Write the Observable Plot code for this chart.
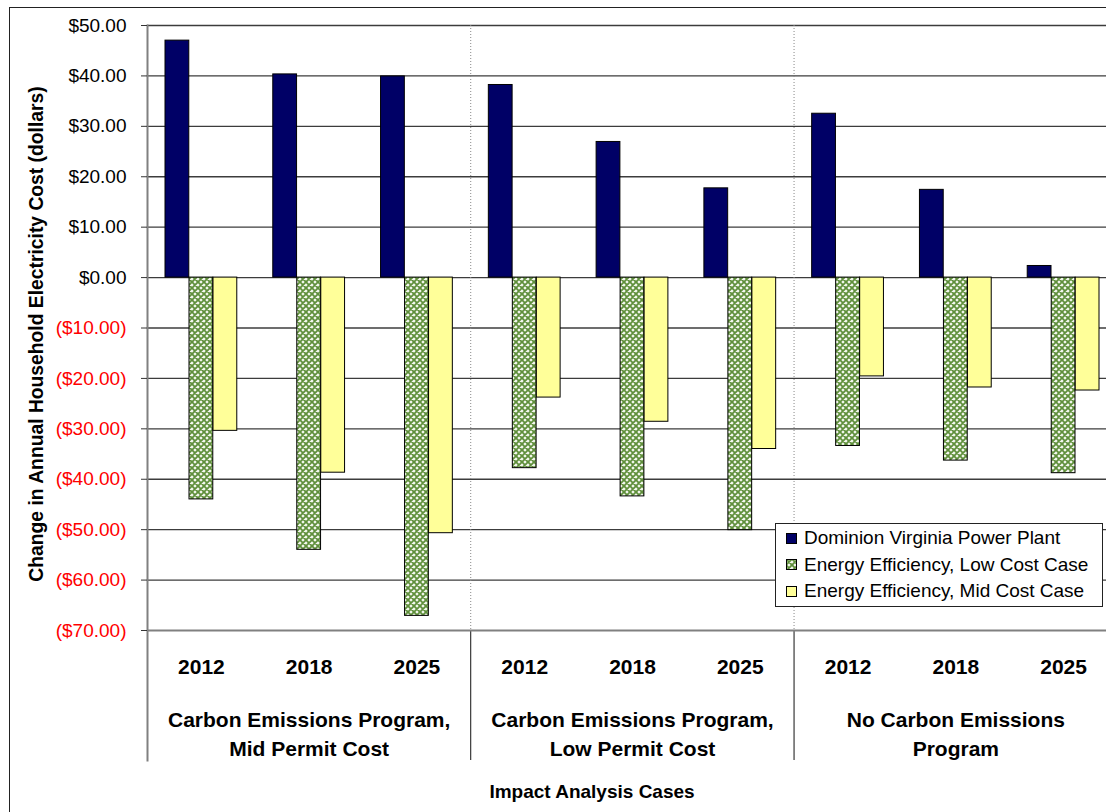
<!DOCTYPE html>
<html>
<head>
<meta charset="utf-8">
<script src="https://cdn.jsdelivr.net/npm/d3@7"></script>
<script src="https://cdn.jsdelivr.net/npm/@observablehq/plot@0.6"></script>
<style>
  body { margin: 0; background: #fff; overflow: hidden; font-family: "Liberation Sans", Arial, sans-serif; }
  #wrap { position: relative; width: 1106px; height: 812px; overflow: hidden; background: #fff; }
  #chart { position: absolute; left: 0; top: 0; }
  #border { position: absolute; left: 9px; top: 7px; width: 1130px; height: 840px; border: 1px solid #222; pointer-events: none; }
  #ytitle { position: absolute; left: 37px; top: 334px; transform: translate(-50%, -50%) rotate(-90deg); white-space: nowrap; font-weight: bold; font-size: 19.3px; color: #000; }
  #xtitle { position: absolute; left: 592px; top: 792px; transform: translate(-50%, -50%); white-space: nowrap; font-weight: bold; font-size: 19px; color: #000; }
  #legend { position: absolute; left: 775px; top: 523px; width: 326px; height: 82px; border: 1px solid #222; background: #fff; font-size: 19px; }
  .row { position: absolute; left: 10px; height: 24px; display: flex; align-items: center; white-space: nowrap; }
  .row svg { margin-right: 7px; }
</style>
</head>
<body>
<div id="wrap">
  <div id="chart"></div>
  <div id="ytitle">Change in Annual Household Electricity Cost (dollars)</div>
  <div id="xtitle">Impact Analysis Cases</div>
  <div id="legend"></div>
  <div id="border"></div>
</div>
<script>
// ---- data ----
const groups = [
  "Carbon Emissions Program,\nMid Permit Cost",
  "Carbon Emissions Program,\nLow Permit Cost",
  "No Carbon Emissions\nProgram"
];
const years = ["2012", "2018", "2025"];
const seriesNames = [
  "Dominion Virginia Power Plant",
  "Energy Efficiency, Low Cost Case",
  "Energy Efficiency, Mid Cost Case"
];
const dominion = [47.0, 40.3, 39.9, 38.2, 26.9, 17.7, 32.5, 17.4, 2.3];
const effLow   = [-44.0, -54.0, -67.1, -37.8, -43.4, -50.1, -33.4, -36.3, -38.8];
const effMid   = [-30.4, -38.7, -50.7, -23.8, -28.6, -34.0, -19.6, -21.8, -22.4];
const yTicks = [-70, -60, -50, -40, -30, -20, -10, 0, 10, 20, 30, 40, 50];

// ---- table ----
const keys = groups.flatMap((g, gi) => years.map(y => gi + "|" + y));
const rows = keys.map((k, i) => ({
  key: k,
  group: groups[Math.floor(i / 3)],
  year: years[i % 3],
  dominion: dominion[i],
  effLow: effLow[i],
  effMid: effMid[i]
}));
const dividers = [keys[3], keys[6]];

const fmt = v => v < 0 ? "($" + (-v).toFixed(2) + ")" : "$" + v.toFixed(2);
const colors = ["#000066", "url(#hatch)", "#FFFF99"];

const barOpts = {insetLeft: 42, insetRight: 42, stroke: "#000", strokeWidth: 1};

const chart = Plot.plot({
  width: 1106,
  height: 812,
  marginLeft: 147,
  marginRight: -11,
  marginTop: 25,
  marginBottom: 182,
  style: {fontFamily: "Liberation Sans, Arial, sans-serif", fontSize: "19px", color: "#000", background: "transparent"},
  x: {domain: keys, padding: 0, round: false, axis: null},
  y: {domain: [-70, 50]},
  marks: [
    Plot.ruleY(yTicks.filter(t => t > -70), {stroke: "#3c3c3c", strokeWidth: 1.3}),
    Plot.ruleX(dividers, {dx: -54, y1: 50, y2: -70, stroke: "#888", strokeDasharray: "1,2"}),
    Plot.ruleX(dividers, {dx: -54, y1: -70, y2: -70, insetBottom: -130, stroke: "#111"}),
    Plot.barY(rows, {x: "key", y: "dominion", fill: colors[0], dx: -24, ...barOpts}),
    Plot.barY(rows, {x: "key", y: "effLow", fill: colors[1], dx: 0, ...barOpts}),
    Plot.barY(rows, {x: "key", y: "effMid", fill: colors[2], dx: 24, ...barOpts}),
    Plot.ruleY([-70], {stroke: "#808080", strokeWidth: 2}),
    Plot.frame({anchor: "left", stroke: "#808080", strokeWidth: 2, insetBottom: -130}),
    Plot.axisY(yTicks.filter(t => t < 0), {tickFormat: fmt, tickSize: 6, tickPadding: 15, fill: "#ff0000", stroke: "#333", fontSize: 19, label: null}),
    Plot.axisY(yTicks.filter(t => t >= 0), {tickFormat: fmt, tickSize: 6, tickPadding: 15, fill: "#000", stroke: "#333", fontSize: 19, label: null}),
    Plot.text(rows, {x: "key", text: "year", frameAnchor: "bottom", lineAnchor: "middle", dy: 37, fontSize: 21, fontWeight: "bold"}),
    Plot.text(rows.filter(d => d.year === "2018"), {x: "key", text: "group", frameAnchor: "bottom", lineAnchor: "middle", dy: 101.5, lineHeight: 1.38, fontSize: 21, fontWeight: "bold"})
  ]
});

// pattern for the hatched series
const svgRoot = chart.tagName.toLowerCase() === "svg" ? chart : chart.querySelector("svg");
const defs = d3.select(svgRoot).insert("defs", ":first-child");
const pat = defs.append("pattern").attr("id", "hatch").attr("patternUnits", "userSpaceOnUse")
  .attr("width", 6).attr("height", 6);
pat.append("rect").attr("width", 6).attr("height", 6).attr("fill", "#f4f8ef");
pat.append("path").attr("d", "M-1,-1L7,7M7,-1L-1,7M-1,5L1,7M5,-1L7,1M5,7L7,5M-1,1L1,-1")
  .attr("stroke", "#5f8f3b").attr("stroke-width", 1.8);

document.getElementById("chart").appendChild(chart);

// legend
const legend = document.getElementById("legend");
seriesNames.forEach((name, i) => {
  const row = document.createElement("div");
  row.className = "row";
  row.style.top = (2 + i * 26.5) + "px";
  row.innerHTML = `<svg width="11" height="11"><rect x="0.5" y="0.5" width="10" height="10" fill="${colors[i]}" stroke="#000"/></svg><span>${name}</span>`;
  legend.appendChild(row);
});
</script>
</body>
</html>
